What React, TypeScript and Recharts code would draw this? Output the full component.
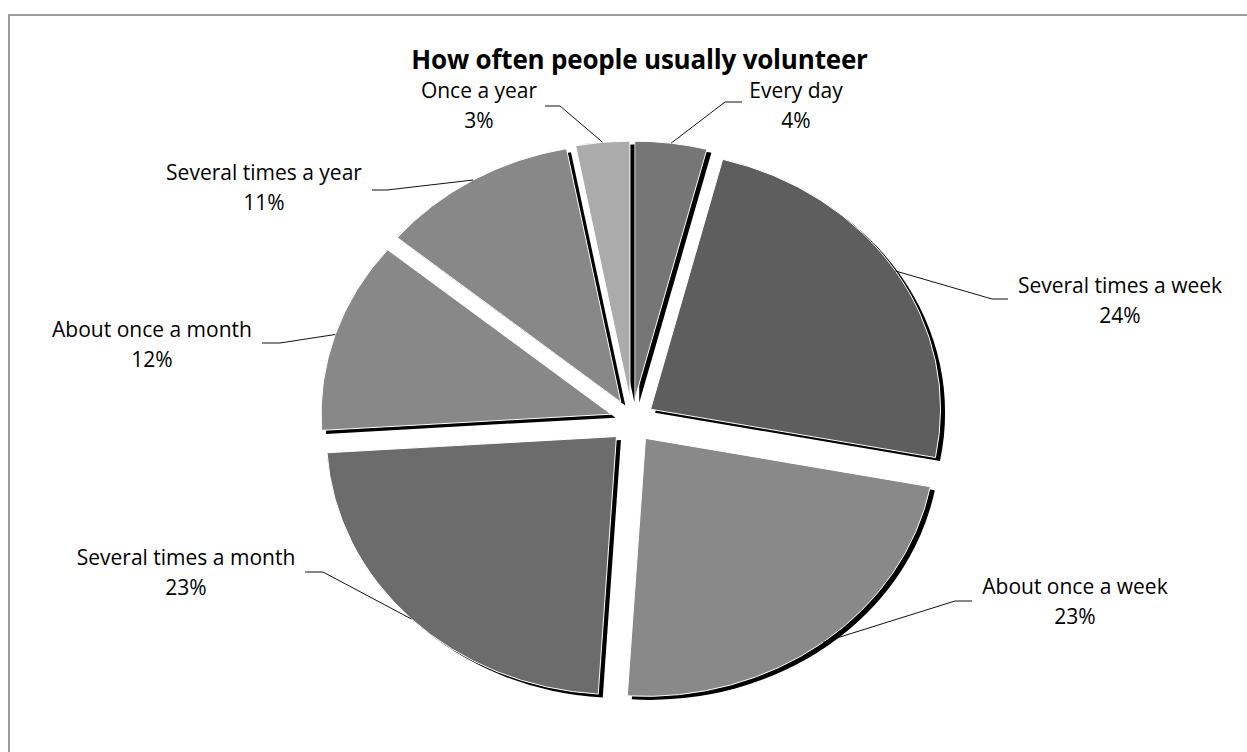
import { PieChart, Pie, Cell } from 'recharts';

// frequency categories, clockwise from 12 o'clock
const categories = [
  'Every day',
  'Several times a week',
  'About once a week',
  'Several times a month',
  'About once a month',
  'Several times a year',
  'Once a year',
];
const shares = [4, 24, 23, 23, 12, 11, 3];

const sliceColors = ['#767676', '#5e5e5e', '#898989', '#6c6c6c', '#888888', '#888888', '#ababab'];

// label text centre and leader elbow (elbowX, elbowY) -> horizontal stub end
const labelX = [796, 1120, 1075, 186, 152, 264, 479];
const labelY = [90, 285, 586, 557, 329, 172, 90];
const elbowX = [725, 992, 955, 323, 280, 387, 560];
const elbowY = [102, 299, 601, 572, 343, 190, 106];
const stubX = [742, 1008, 972, 305, 262, 372, 545];

const data = categories.map((name, i) => ({ name, value: shares[i] }));

const RAD = Math.PI / 180;
const STRETCH_X = 290 / 258;
const EXPLODE = 22;
const FONT = '"Open Sans", sans-serif';

function offsetCenter(cx: number, cy: number, mid: number) {
  return [cx + Math.cos(-mid * RAD) * EXPLODE, cy + Math.sin(-mid * RAD) * EXPLODE];
}

function onRim(x: number, y: number, r: number, angle: number) {
  return [x + Math.cos(-angle * RAD) * r * STRETCH_X, y + Math.sin(-angle * RAD) * r];
}

function sectorPath(props: any) {
  const { cx, cy, outerRadius, startAngle, endAngle, midAngle } = props;
  const [x, y] = offsetCenter(cx, cy, midAngle);
  const [x1, y1] = onRim(x, y, outerRadius, startAngle);
  const [x2, y2] = onRim(x, y, outerRadius, endAngle);
  const large = Math.abs(startAngle - endAngle) > 180 ? 1 : 0;
  const sweep = startAngle > endAngle ? 1 : 0;
  return `M${x},${y}L${x1},${y1}A${outerRadius * STRETCH_X},${outerRadius} 0 ${large} ${sweep} ${x2},${y2}Z`;
}

// exploded slice with a hard drop shadow and a thin white rim
const SliceShape = (props: any) => {
  const d = sectorPath(props);
  return (
    <g>
      <path d={d} fill="#000" transform="translate(4.5,3.5)" />
      <path d={d} fill={props.fill} stroke="#fff" strokeWidth={1} />
    </g>
  );
};

const SliceLabel = (props: any) => {
  const { cx, cy, outerRadius, midAngle, index, value, name } = props;
  const [x, y] = offsetCenter(cx, cy, midAngle);
  const [ax, ay] = onRim(x, y, outerRadius, midAngle);
  return (
    <g>
      <polyline
        points={`${ax},${ay} ${elbowX[index]},${elbowY[index]} ${stubX[index]},${elbowY[index]}`}
        fill="none"
        stroke="#111"
        strokeWidth={1}
      />
      <text x={labelX[index]} y={labelY[index]} textAnchor="middle" dominantBaseline="central"
        fontFamily={FONT} fontSize={21} fill="#000">
        {name}
      </text>
      <text x={labelX[index]} y={labelY[index] + 30} textAnchor="middle" dominantBaseline="central"
        fontFamily={FONT} fontSize={21} fill="#000">
        {`${value}%`}
      </text>
    </g>
  );
};

export default function App() {
  return (
    <div style={{ position: 'absolute', left: 0, top: 0, width: 1247, height: 752, background: '#fff' }}>
      <div
        style={{
          position: 'absolute',
          left: 8,
          top: 14,
          width: 1239,
          height: 738,
          boxSizing: 'border-box',
          borderTop: '2px solid #9a9a9a',
          borderLeft: '2px solid #9a9a9a',
        }}
      />
      <div
        style={{
          position: 'absolute',
          left: 0,
          width: 1247,
          top: 46,
          textAlign: 'center',
          paddingLeft: 32,
          boxSizing: 'border-box',
          fontFamily: FONT,
          fontWeight: 700,
          fontSize: 26,
          lineHeight: '26px',
          letterSpacing: -0.2,
          color: '#000',
        }}
      >
        How often people usually volunteer
      </div>
      <div style={{ position: 'absolute', left: 0, top: 0 }}>
        <PieChart width={1247} height={752}>
          <Pie
            data={data}
            dataKey="value"
            nameKey="name"
            cx={627}
            cy={416}
            outerRadius={258}
            startAngle={90}
            endAngle={-270}
            stroke="none"
            shape={SliceShape}
            label={SliceLabel}
            labelLine={false}
            isAnimationActive={false}
          >
            {data.map((d, i) => (
              <Cell key={d.name} fill={sliceColors[i]} />
            ))}
          </Pie>
        </PieChart>
      </div>
    </div>
  );
}
